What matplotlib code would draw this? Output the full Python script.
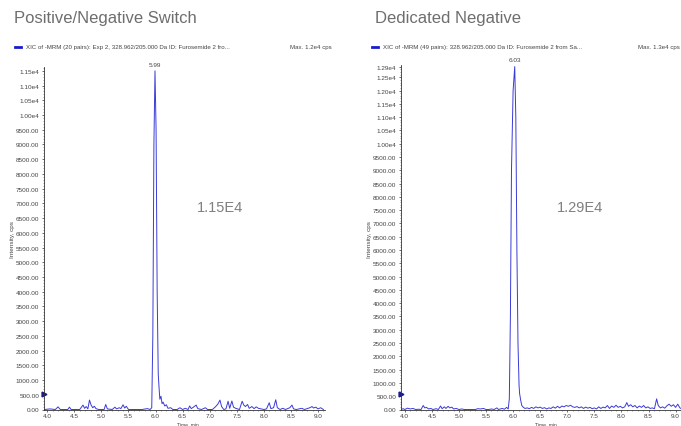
import matplotlib
matplotlib.use('Agg')
import matplotlib.pyplot as plt
from matplotlib.ticker import FixedLocator, MultipleLocator, FuncFormatter

plt.rcParams['font.family'] = ['Liberation Sans', 'DejaVu Sans']

# ================================================
# Data: XIC traces
# ================================================
left_time = [3.95, 4.05, 4.15, 4.20, 4.24, 4.38, 4.41, 4.44, 4.60, 4.66, 4.69, 4.72, 4.75, 4.78,
             4.81, 4.84, 4.87, 4.90, 4.95, 5.05, 5.08, 5.11, 5.20, 5.25, 5.28, 5.33, 5.36, 5.40,
             5.43, 5.46, 5.50, 5.60, 5.75, 5.85, 5.90, 5.93, 5.95, 5.97, 5.99, 6.01, 6.03, 6.05,
             6.07, 6.08, 6.10, 6.12, 6.14, 6.17, 6.20, 6.23, 6.28, 6.32, 6.40, 6.45, 6.50, 6.55,
             6.60, 6.63, 6.66, 6.70, 6.75, 6.78, 6.85, 6.92, 6.96, 7.05, 7.10, 7.15, 7.19, 7.22,
             7.26, 7.30, 7.34, 7.37, 7.41, 7.44, 7.48, 7.55, 7.60, 7.63, 7.66, 7.70, 7.73, 7.78,
             7.82, 7.86, 7.90, 7.95, 8.00, 8.05, 8.10, 8.13, 8.18, 8.22, 8.25, 8.30, 8.35, 8.40,
             8.48, 8.52, 8.55, 8.60, 8.70, 8.75, 8.85, 8.89, 8.92, 8.96, 9.00, 9.05, 9.10]
left_int = [0, 20, 0, 90, 0, 0, 80, 0, 0, 150, 40, 100, 20, 320,
            150, 60, 110, 30, 0, 0, 170, 20, 0, 80, 20, 60, 30, 160,
            50, 110, 0, 0, 0, 30, 0, 60, 2500, 9000, 11500, 9500, 4000, 1200,
            600, 350, 450, 200, 250, 120, 160, 40, 60, 0, 0, 60, 0, 40,
            0, 120, 30, 80, 150, 30, 0, 60, 0, 0, 80, 180, 320, 100,
            0, 20, 280, 40, 290, 80, 40, 0, 280, 150, 100, 170, 40, 100,
            30, 90, 40, 20, 0, 20, 230, 30, 60, 330, 60, 0, 40, 0,
            60, 150, 20, 0, 40, 0, 60, 100, 50, 80, 20, 60, 0]

right_time = [3.93, 3.97, 4.00, 4.05, 4.10, 4.15, 4.20, 4.25, 4.30, 4.34, 4.37, 4.40, 4.44, 4.48,
              4.52, 4.58, 4.62, 4.66, 4.69, 4.73, 4.76, 4.80, 4.83, 4.87, 4.90, 4.95, 5.00, 5.05,
              5.10, 5.30, 5.35, 5.40, 5.45, 5.50, 5.55, 5.60, 5.65, 5.70, 5.73, 5.80, 5.84, 5.88,
              5.91, 5.93, 5.95, 5.97, 6.00, 6.03, 6.05, 6.07, 6.09, 6.11, 6.12, 6.14, 6.16, 6.19,
              6.22, 6.26, 6.30, 6.34, 6.38, 6.42, 6.46, 6.50, 6.54, 6.58, 6.62, 6.66, 6.70, 6.74,
              6.78, 6.82, 6.86, 6.90, 6.94, 6.98, 7.02, 7.06, 7.10, 7.14, 7.18, 7.22, 7.26, 7.30,
              7.34, 7.38, 7.42, 7.46, 7.50, 7.54, 7.58, 7.62, 7.66, 7.70, 7.74, 7.78, 7.82, 7.86,
              7.90, 7.94, 7.98, 8.02, 8.06, 8.10, 8.13, 8.17, 8.21, 8.25, 8.29, 8.33, 8.37, 8.41,
              8.45, 8.49, 8.53, 8.57, 8.61, 8.65, 8.68, 8.72, 8.76, 8.80, 8.84, 8.88, 8.92, 8.96,
              9.00, 9.04, 9.08, 9.10]
right_int = [0, 30, 0, 50, 20, 40, 0, 10, 0, 150, 60, 80, 20, 40,
             0, 30, 0, 130, 30, 100, 40, 120, 60, 90, 20, 40, 0, 20,
             0, 0, 30, 20, 40, 0, 0, 20, 0, 60, 0, 40, 10, 80,
             20, 400, 3500, 9000, 12000, 12900, 11000, 6000, 2500, 900, 600, 350, 150, 80,
             40, 60, 30, 80, 40, 100, 60, 90, 40, 70, 20, 60, 40, 100,
             50, 120, 60, 130, 100, 150, 120, 160, 100, 80, 110, 60, 100, 40,
             90, 50, 80, 30, 60, 20, 100, 40, 90, 60, 150, 40, 130, 80,
             160, 80, 120, 60, 100, 260, 120, 180, 100, 150, 60, 130, 80, 150,
             60, 100, 40, 60, 30, 400, 150, 60, 100, 50, 140, 200, 120, 180,
             80, 200, 60, 40]

panels = [
    dict(title='Positive/Negative Switch', time=left_time, inten=left_int,
         legend='XIC of -MRM (20 pairs): Exp 2, 328.962/205.000 Da ID: Furosemide 2 fro...',
         maxtxt='Max. 1.2e4 cps', peak_t=5.99, peak_label='5.99', top=11500, big='1.15E4',
         ymax=11630, xlim=(3.94, 9.13), rect=[44/681, 16.5/427, 281/681, 342.5/427],
         title_x=14/681, legend_x=15/681, max_x=290/681, big_x=220/681, ylab_x=13/681, marker_y=540),
    dict(title='Dedicated Negative', time=right_time, inten=right_int,
         legend='XIC of -MRM (49 pairs): 328.962/205.000 Da ID: Furosemide 2 from Sa...',
         maxtxt='Max. 1.3e4 cps', peak_t=6.03, peak_label='6.03', top=12900, big='1.29E4',
         ymax=12960, xlim=(3.93, 9.10), rect=[401/681, 16.5/427, 280/681, 344.5/427],
         title_x=375/681, legend_x=372/681, max_x=638/681, big_x=580/681, ylab_x=370/681, marker_y=600),
]

fig = plt.figure(figsize=(6.81, 4.27), dpi=100)
line_color = '#3a3ad8'
gray = '#6e6e6e'

for p in panels:
    ax = fig.add_axes(p['rect'])
    ax.plot(p['time'], p['inten'], color=line_color, lw=0.7)
    ax.set_xlim(*p['xlim'])
    ax.set_ylim(0, p['ymax'])

    for s in ['top', 'right']:
        ax.spines[s].set_visible(False)
    for s in ['left', 'bottom']:
        ax.spines[s].set_linewidth(0.6)
        ax.spines[s].set_color('#333333')

    # y ticks every 500 plus the max value
    yt = list(range(0, p['top'] + 1, 500))
    if p['top'] not in yt:
        yt.append(p['top'])
    ax.yaxis.set_major_locator(FixedLocator(yt))
    ax.yaxis.set_minor_locator(MultipleLocator(100))
    ax.yaxis.set_major_formatter(FuncFormatter(
        lambda v, pos: f'{v/1e4:.2f}e4' if v >= 10000 else f'{v:.2f}'))
    ax.xaxis.set_major_locator(MultipleLocator(0.5))
    ax.xaxis.set_minor_locator(MultipleLocator(0.1))
    ax.xaxis.set_major_formatter(FuncFormatter(lambda v, pos: f'{v:.1f}'))
    ax.tick_params(which='major', length=1.8, width=0.5, labelsize=4.6, pad=1.5,
                   colors='#333333', labelcolor='#444444')
    ax.tick_params(axis='x', which='major', length=1.5, pad=0.8)
    ax.tick_params(which='minor', length=1, width=0.4, colors='#555555')

    # peak label
    ax.annotate(p['peak_label'], xy=(p['peak_t'], p['top']), xytext=(0, 3),
                textcoords='offset points', ha='center', va='bottom',
                fontsize=4.6, color='#444444', annotation_clip=False)

    # marker on the y axis
    ax.plot([p['xlim'][0]], [p['marker_y']], marker='>', color='#1a1a8c',
            markersize=3.5, clip_on=False)

    # x axis label at the bottom edge
    ax.annotate('Time, min', xy=(6.6, 0), xycoords=('data', 'figure fraction'),
                ha='center', va='bottom', fontsize=3.6, color='#444444',
                annotation_clip=False)

    # texts around the panel
    fig.text(p['title_x'], 1 - 18/427, p['title'], fontsize=12, color=gray,
             ha='left', va='center')
    fig.text(p['legend_x'] + 11/681, 1 - 48/427, p['legend'], fontsize=4.4, color='#444444',
             ha='left', va='center')
    fig.lines.append(plt.Line2D([p['legend_x'], p['legend_x'] + 6/681],
                                [1 - 48/427, 1 - 48/427], transform=fig.transFigure,
                                color='#1a1ad0', lw=2))
    fig.text(p['max_x'], 1 - 48/427, p['maxtxt'], fontsize=4.4, color='#444444',
             ha='left', va='center')
    fig.text(p['big_x'], 1 - 208/427, p['big'], fontsize=10.5, color='#808080',
             ha='center', va='center')
    fig.text(p['ylab_x'], 1 - 240/427, 'Intensity, cps', fontsize=4.6, color='#444444',
             rotation=90, ha='center', va='center')

fig.savefig('out.png', dpi=100)
